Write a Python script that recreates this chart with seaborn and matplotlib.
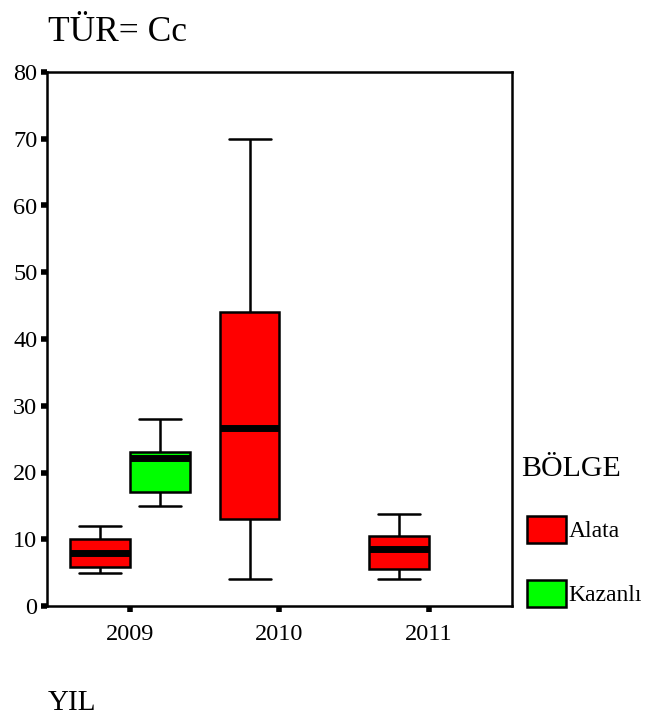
import numpy as np
import pandas as pd
import matplotlib
matplotlib.use("Agg")
import matplotlib.pyplot as plt
import seaborn as sns

# Five-number summaries (min, q1, median, q3, max)
years = ["2009", "2009", "2010", "2011"]
regions = ["Alata", "Kazanlı", "Alata", "Alata"]
low = [4.9, 15.0, 4.0, 4.0]
q1 = [5.8, 17.1, 13.0, 5.5]
median = [7.9, 22.1, 26.6, 8.5]
q3 = [10.0, 23.0, 44.0, 10.5]
high = [12.0, 28.0, 70.0, 13.8]

year_order = ["2009", "2010", "2011"]
region_order = ["Alata", "Kazanlı"]
colors = {"Alata": "#ff0000", "Kazanlı": "#00ff00"}

rows = []
for i in range(len(years)):
    for v in [low[i], q1[i], median[i], q3[i], high[i]]:
        rows.append({"YIL": years[i], "BÖLGE": regions[i], "value": v})
df = pd.DataFrame(rows)

sns.set_style("ticks")
plt.rcParams["font.family"] = ["Liberation Serif", "DejaVu Serif"]
plt.rcParams["text.color"] = "black"
plt.rcParams["xtick.color"] = "black"
plt.rcParams["ytick.color"] = "black"
plt.rcParams["axes.edgecolor"] = "black"

fig = plt.figure(figsize=(6.46, 7.18), dpi=100)
ax = fig.add_axes([47 / 646, 1 - 606 / 718, (512 - 47) / 646, (606 - 72) / 718])

sns.boxplot(data=df, x="YIL", y="value", hue="BÖLGE",
            order=year_order, hue_order=region_order,
            palette=colors, saturation=1, width=0.8, gap=0,
            whis=(0, 100), linecolor="black", linewidth=1.8,
            medianprops=dict(linewidth=5, color="black", solid_capstyle="butt"),
            capwidths=0.28, legend=True, ax=ax)

handles, labels = ax.get_legend_handles_labels()
ax.get_legend().remove()

ax.set_xlim(-0.555, 2.555)
ax.set_ylim(0, 80)
ax.set_yticks(np.arange(0, 81, 10))
ax.set_xlabel("")
ax.set_ylabel("")
for s in ax.spines.values():
    s.set_visible(True)
    s.set_linewidth(1.8)
    s.set_color("black")
ax.tick_params(axis="both", direction="out", length=4, width=4,
               labelsize=17.5, colors="black")
ax.tick_params(axis="y", pad=3)
ax.tick_params(axis="x", pad=9)

fig.text(48 / 646, 1 - 41 / 718, "TÜR= Cc", fontsize=25.5, va="baseline", ha="left")
fig.text(48 / 646, 1 - 710 / 718, "YIL", fontsize=21, va="baseline", ha="left")

# legend title placed on its own, entries below it
fig.text(521 / 646, 1 - 476 / 718, "BÖLGE", fontsize=21.5, va="baseline", ha="left")
leg = fig.legend(handles, labels, frameon=False,
                 loc="upper left", bbox_to_anchor=(527 / 646, 1 - 516 / 718),
                 fontsize=17, handlelength=1.65,
                 handleheight=1.4, handletextpad=0.1, labelspacing=1.55,
                 borderaxespad=0, borderpad=0)

fig.savefig("out.png", dpi=100)
